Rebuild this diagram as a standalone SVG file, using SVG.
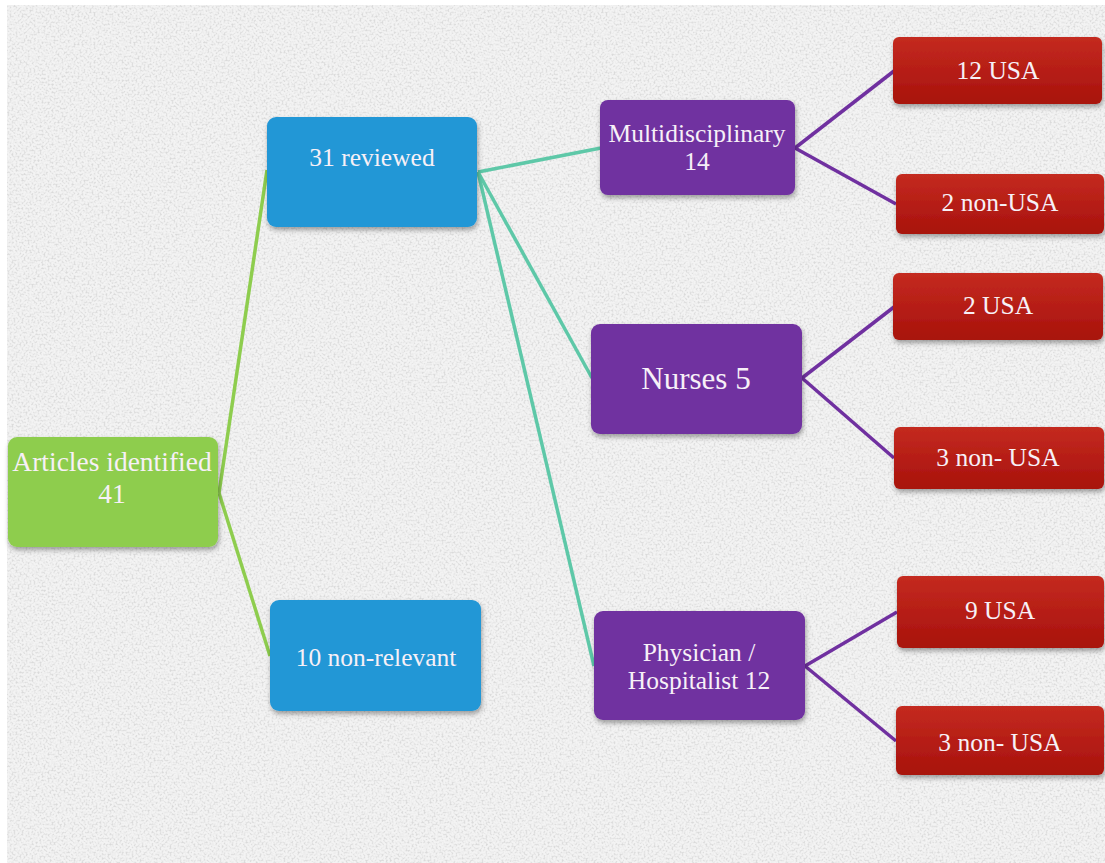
<svg xmlns="http://www.w3.org/2000/svg" width="1105" height="863" viewBox="0 0 1105 863">
<defs>
  <filter id="noise" x="0" y="0" width="100%" height="100%">
    <feTurbulence type="fractalNoise" baseFrequency="0.5" numOctaves="3" seed="7" result="t"/>
    <feColorMatrix in="t" type="matrix" values="0 0 0 0 0.70  0 0 0 0 0.70  0 0 0 0 0.70  3.2 0 0 0 -1.45" result="n"/>
    <feComposite in="n" in2="SourceGraphic" operator="in" result="m"/>
    <feMerge><feMergeNode in="SourceGraphic"/><feMergeNode in="m"/></feMerge>
  </filter>
  <filter id="shadow" x="-10%" y="-10%" width="125%" height="130%">
    <feDropShadow dx="1" dy="3" stdDeviation="2.5" flood-color="#000" flood-opacity="0.35"/>
  </filter>
  <linearGradient id="red" x1="0" y1="0" x2="0" y2="1">
    <stop offset="0" stop-color="#c42a20"/>
    <stop offset="1" stop-color="#a8120c"/>
  </linearGradient>
  <style>
    .box{filter:url(#shadow);}
    .green{fill:#8ecd4e;}
    .blue{fill:#2497d6;}
    .purple{fill:#7030a0;}
    .red{fill:url(#red);}
    .lbl{fill:#f7f0f7;text-anchor:middle;font-family:'Liberation Serif','Times New Roman',serif;font-size:25.5px;}
    .c-green{stroke:#8ecd4e;stroke-width:3.5;fill:none;}
    .c-teal{stroke:#5ec8a8;stroke-width:3.5;fill:none;}
    .c-purple{stroke:#7030a0;stroke-width:3.5;fill:none;}
  </style>
</defs>
<rect x="0" y="0" width="1105" height="863" fill="#ffffff"/>
<rect x="7" y="5" width="1098" height="858" fill="#f3f3f3" filter="url(#noise)"/>

<g id="connectors">
  <line class="c-green" x1="219" y1="493" x2="267" y2="170"/>
  <line class="c-green" x1="219" y1="493" x2="270" y2="656"/>
  <line class="c-teal" x1="478" y1="172" x2="601" y2="148"/>
  <line class="c-teal" x1="478" y1="172" x2="592" y2="378"/>
  <line class="c-teal" x1="478" y1="172" x2="594" y2="666"/>
  <line class="c-purple" x1="795" y1="148" x2="894" y2="71"/>
  <line class="c-purple" x1="795" y1="148" x2="896" y2="204"/>
  <line class="c-purple" x1="802" y1="378" x2="894" y2="307"/>
  <line class="c-purple" x1="802" y1="378" x2="894" y2="458"/>
  <line class="c-purple" x1="805" y1="666" x2="897" y2="612"/>
  <line class="c-purple" x1="805" y1="666" x2="896" y2="741"/>
</g>

<g id="articles">
  <rect class="box green" x="8" y="437" width="210" height="110" rx="9"/>
  <text class="lbl" x="112" y="471" style="font-size:27.5px">Articles identified</text>
  <text class="lbl" x="112" y="503" style="font-size:27.5px">41</text>
</g>
<g id="reviewed">
  <rect class="box blue" x="267" y="117" width="210" height="110" rx="9"/>
  <text class="lbl" x="372" y="166">31 reviewed</text>
</g>
<g id="nonrelevant">
  <rect class="box blue" x="270" y="600" width="211" height="111" rx="9"/>
  <text class="lbl" x="376" y="666">10 non-relevant</text>
</g>
<g id="multidisciplinary">
  <rect class="box purple" x="600" y="100" width="195" height="95" rx="8"/>
  <text class="lbl" x="697" y="142">Multidisciplinary</text>
  <text class="lbl" x="697" y="170">14</text>
</g>
<g id="nurses">
  <rect class="box purple" x="591" y="324" width="211" height="110" rx="9"/>
  <text class="lbl" x="696" y="389" style="font-size:31px">Nurses 5</text>
</g>
<g id="physician">
  <rect class="box purple" x="594" y="611" width="211" height="109" rx="9"/>
  <text class="lbl" x="699" y="661">Physician /</text>
  <text class="lbl" x="699" y="689">Hospitalist 12</text>
</g>
<g id="usa12">
  <rect class="box red" x="893" y="37" width="209" height="67" rx="6"/>
  <text class="lbl" x="998" y="79">12 USA</text>
</g>
<g id="nonusa2">
  <rect class="box red" x="896" y="174" width="208" height="60" rx="6"/>
  <text class="lbl" x="1000" y="211">2 non-USA</text>
</g>
<g id="usa2">
  <rect class="box red" x="893" y="273" width="210" height="67" rx="6"/>
  <text class="lbl" x="998" y="314">2 USA</text>
</g>
<g id="nonusa3a">
  <rect class="box red" x="894" y="427" width="210" height="62" rx="6"/>
  <text class="lbl" x="998" y="466">3 non- USA</text>
</g>
<g id="usa9">
  <rect class="box red" x="897" y="576" width="207" height="72" rx="6"/>
  <text class="lbl" x="1000" y="619">9 USA</text>
</g>
<g id="nonusa3b">
  <rect class="box red" x="896" y="706" width="208" height="69" rx="6"/>
  <text class="lbl" x="1000" y="751">3 non- USA</text>
</g>
</svg>
